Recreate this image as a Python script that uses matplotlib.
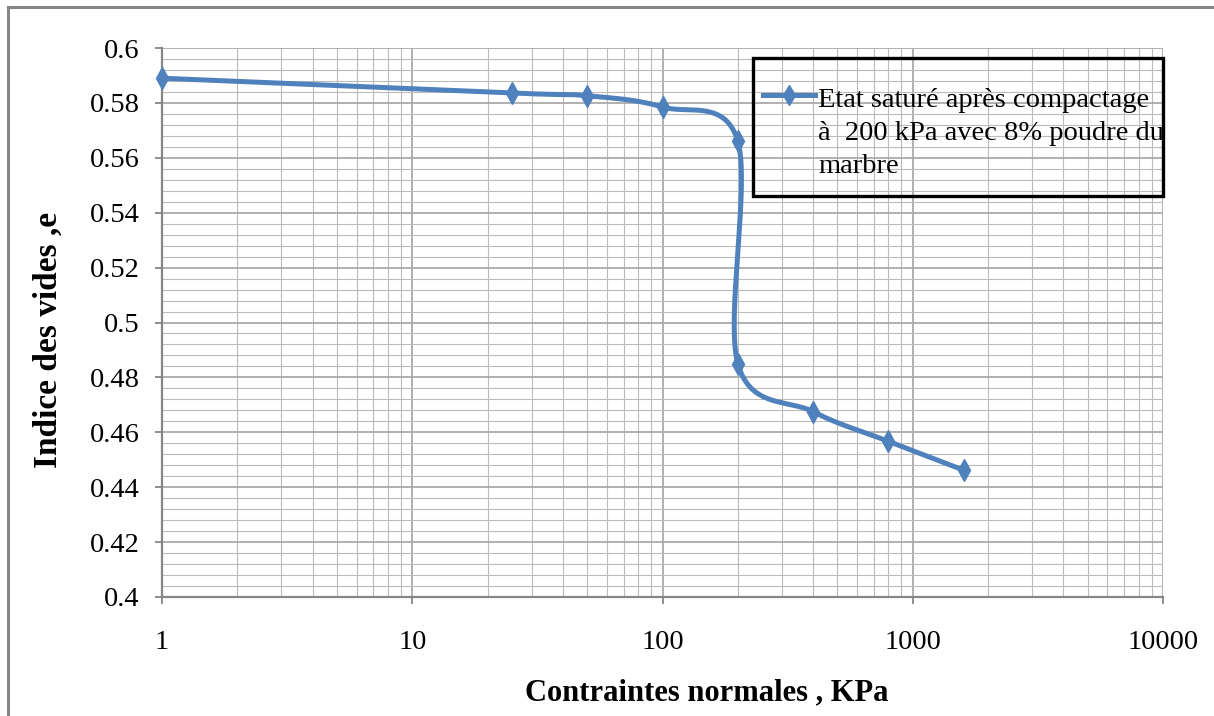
"""
Courbe de compressibilité (indice des vides en fonction de la contrainte)
"""
import numpy as np
import matplotlib
matplotlib.use("Agg")
import matplotlib.pyplot as plt
from matplotlib.ticker import MultipleLocator, LogLocator, FuncFormatter, NullFormatter
from matplotlib.patches import Rectangle
from matplotlib.lines import Line2D

plt.rcParams['font.family'] = ['Liberation Serif', 'DejaVu Serif']

# ======================== données ========================
contraintes = [1, 25, 50, 100, 200, 200, 400, 800, 1600]           # kPa
indice_vides = [0.589, 0.5836, 0.5826, 0.5785, 0.566, 0.485, 0.4675, 0.4567, 0.4462]
serie_label = "Etat saturé après compactage\nà  200 kPa avec 8% poudre du\nmarbre"
x_ticks = [1, 10, 100, 1000, 10000]
y_ticks = [0.4, 0.42, 0.44, 0.46, 0.48, 0.5, 0.52, 0.54, 0.56, 0.58, 0.6]
# ==========================================================

BLEU = '#4f81bd'
GRIS = '#868686'
W, H = 1214, 716

fig = plt.figure(figsize=(W / 100, H / 100), dpi=100)
ax = fig.add_axes([162 / W, 1 - 597 / H, 1001 / W, 549 / H])


def px(x, y):
    """pixels (origine en haut à gauche) -> fraction de figure"""
    return x / W, 1 - y / H


ax.set_xscale('log')
ax.set_xlim(1, 10000)
ax.set_ylim(0.4, 0.6)
ax.set_xticks(x_ticks)
ax.xaxis.set_major_formatter(FuncFormatter(lambda v, p: f"{v:g}"))
ax.xaxis.set_minor_locator(LogLocator(base=10, subs=np.arange(2, 10)))
ax.xaxis.set_minor_formatter(NullFormatter())
ax.set_yticks(y_ticks)
ax.yaxis.set_major_formatter(FuncFormatter(lambda v, p: f"{v:g}"))
ax.yaxis.set_minor_locator(MultipleLocator(0.004))

ax.grid(which='major', color='#aaaaaa', linewidth=1.3)
ax.grid(which='minor', color='#bbbbbb', linewidth=0.8)
ax.set_axisbelow(True)

for s in ['top', 'right']:
    ax.spines[s].set_visible(False)
for s in ['left', 'bottom']:
    ax.spines[s].set_color(GRIS)
    ax.spines[s].set_linewidth(1.6)
ax.tick_params(which='major', direction='out', length=5, width=1.3, color=GRIS,
               labelsize=20.5, labelcolor='black')
ax.tick_params(axis='x', which='major', pad=19)
ax.tick_params(axis='y', which='major', pad=11)
ax.tick_params(which='minor', length=0)

# courbe lissée (style Excel : Bézier type Catmull-Rom en coordonnées écran)
pts = ax.transData.transform(np.column_stack([contraintes, indice_vides]))
ext = np.vstack([pts[0], pts, pts[-1]])
t = np.linspace(0, 1, 40)[:, None]
courbe = []
for i in range(1, len(ext) - 2):
    p0, p1, p2, p3 = ext[i - 1], ext[i], ext[i + 1], ext[i + 2]
    c1 = p1 + (p2 - p0) / 6
    c2 = p2 - (p3 - p1) / 6
    seg = ((1 - t) ** 3) * p1 + 3 * ((1 - t) ** 2) * t * c1 + 3 * (1 - t) * t ** 2 * c2 + t ** 3 * p2
    courbe.append(seg)
courbe = ax.transData.inverted().transform(np.vstack(courbe))
ax.plot(courbe[:, 0], courbe[:, 1], color=BLEU, linewidth=3.6, solid_capstyle='round',
        clip_on=False, zorder=3)
ax.plot(contraintes, indice_vides, linestyle='none', marker='d', markersize=11,
        color=BLEU, clip_on=False, zorder=4)

# légende (dessinée à la main pour garder le symbole sur la première ligne)
x0, y0 = px(753, 196)
x1, y1 = px(1163, 58)
fig.add_artist(Rectangle((x0, y0), x1 - x0, y1 - y0, transform=fig.transFigure,
                         fill=True, facecolor='none', edgecolor='black', linewidth=2.4, zorder=5))
fig.add_artist(Line2D([763 / W, 815 / W], [1 - 95 / H, 1 - 95 / H], transform=fig.transFigure,
                      color=BLEU, linewidth=3.6, zorder=6))
fig.add_artist(Line2D([789 / W], [1 - 95 / H], transform=fig.transFigure, color=BLEU,
                      marker='d', markersize=10, linestyle='none', zorder=6))
for k, ligne in enumerate(serie_label.split('\n')):
    fig.text(818 / W, 1 - (107 + 33 * k) / H, ligne, fontsize=20.5, va='baseline',
             ha='left', zorder=6)

ax.set_xlabel("Contraintes normales , KPa", fontsize=22, fontweight='bold')
ax.xaxis.set_label_coords(707 / W, 1 - 678 / H, transform=fig.transFigure)
ax.set_ylabel("Indice des vides ,e", fontsize=24, fontweight='bold')
ax.yaxis.set_label_coords(64 / W, 1 - 340 / H, transform=fig.transFigure)

# cadre extérieur du graphique
fig.add_artist(Rectangle((8 / W, -0.1), 1.2, 1.1 - 7 / H, transform=fig.transFigure,
                         fill=False, edgecolor=GRIS, linewidth=2.2))

fig.savefig('out.png', dpi=100)
